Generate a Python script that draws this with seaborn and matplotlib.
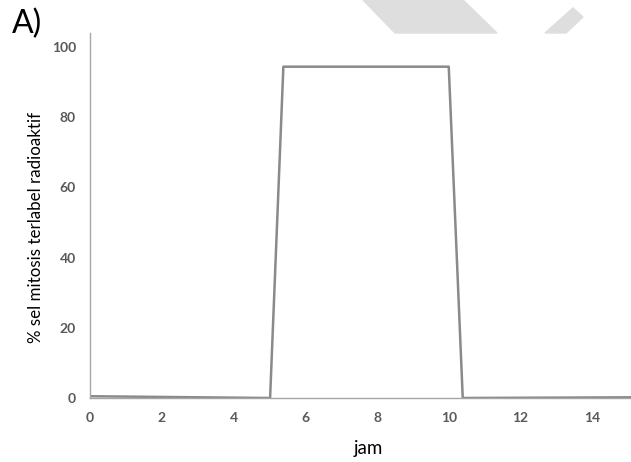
import matplotlib
matplotlib.use("Agg")
import matplotlib.pyplot as plt
from matplotlib.patches import Polygon
import seaborn as sns
import pandas as pd

# time (jam) and % labelled mitoses
jam = [0, 5.02, 5.39, 10.0, 10.39, 15.2]
persen = [0.5, 0.0, 94.4, 94.4, 0.0, 0.2]

df = pd.DataFrame({"jam": jam, "persen": persen})

sns.set_style("white")
plt.rcParams["font.family"] = ["Lato", "DejaVu Sans"]

fig = plt.figure(figsize=(6.31, 4.62), dpi=100)
ax = fig.add_axes([90 / 631, 1 - 398 / 462, 541 / 631, 365 / 462])

# faint watermark shapes at the top
W, H = 631, 462
def fig_pts(pts):
    return [(x / W, 1 - y / H) for x, y in pts]
fig.patches.append(Polygon(fig_pts([(363, 0), (463, 0), (497, 33), (395, 33)]),
                           closed=True, transform=fig.transFigure, color="#dedede", zorder=0))
fig.patches.append(Polygon(fig_pts([(545, 33), (573, 8), (583, 17), (566, 33)]),
                           closed=True, transform=fig.transFigure, color="#dedede", zorder=0))

sns.lineplot(data=df, x="jam", y="persen", ax=ax, color="#8a8a8a", linewidth=1.8,
             sort=False, estimator=None)

ax.set_xlim(0, 15.08)
ax.set_ylim(0, 104)
ax.set_xticks(range(0, 15, 2))
ax.set_yticks(range(0, 101, 20))
ax.tick_params(axis="both", length=0, labelsize=10, labelcolor="#595959", pad=10)
for lab in ax.get_xticklabels() + ax.get_yticklabels():
    lab.set_fontweight("bold")

for s in ["top", "right"]:
    ax.spines[s].set_visible(False)
for s in ["left", "bottom"]:
    ax.spines[s].set_color("#a6a6a6")
    ax.spines[s].set_linewidth(1.0)

ax.set_xlabel("jam", fontsize=13.5, color="black")
ax.xaxis.set_label_coords(0.514, -0.115)
ax.set_ylabel("% sel mitosis terlabel radioaktif", fontsize=12.2, color="black")
ax.yaxis.set_label_coords(-0.085, 0.466)

fig.text(12 / W, 1 - 24 / H, "A)", fontsize=23, va="center", ha="left", color="black")

fig.savefig("out.png", dpi=100)
